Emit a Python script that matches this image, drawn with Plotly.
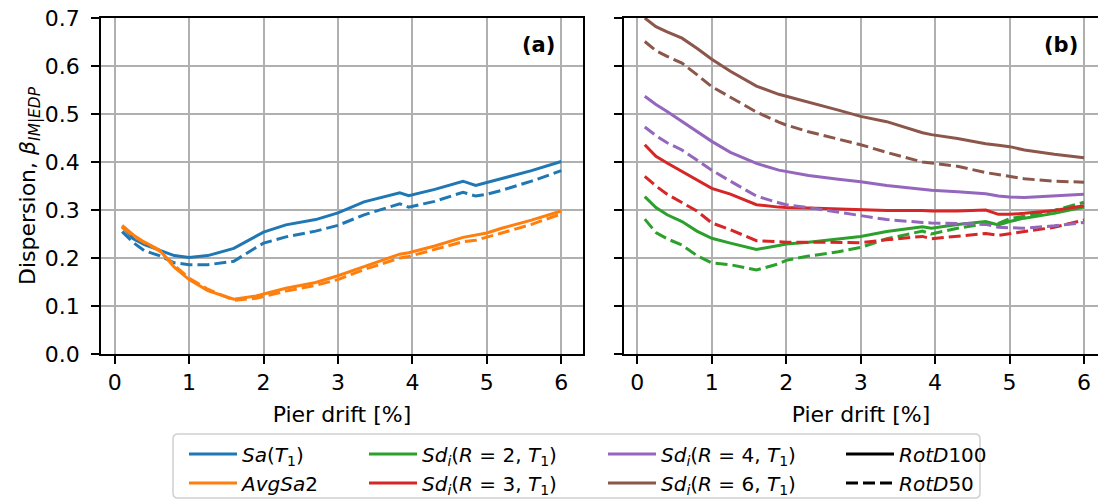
import plotly.graph_objects as go

# ---------------- data ----------------
drift = [0.1, 0.25, 0.4, 0.6, 0.8, 1.0, 1.25, 1.6, 1.9, 2.0, 2.3, 2.7, 3.0, 3.35,
         3.83, 3.95, 4.3, 4.68, 4.85, 5.0, 5.2, 5.6, 6.0]

sa_100 = [0.265, 0.240, 0.228, 0.217, 0.205, 0.201, 0.205, 0.220, 0.245, 0.254, 0.269, 0.280,
          0.294, 0.317, 0.336, 0.330, 0.343, 0.360, 0.351, 0.357, 0.365, 0.382, 0.401]
sa_50 = [0.255, 0.232, 0.215, 0.205, 0.190, 0.186, 0.186, 0.193, 0.222, 0.231, 0.244, 0.256,
         0.268, 0.290, 0.313, 0.306, 0.318, 0.337, 0.329, 0.333, 0.341, 0.360, 0.382]
avg_100 = [0.268, 0.248, 0.233, 0.217, 0.181, 0.155, 0.132, 0.114, 0.121, 0.125, 0.137, 0.149,
           0.163, 0.182, 0.208, 0.211, 0.225, 0.243, 0.247, 0.252, 0.262, 0.279, 0.298]
avg_50 = [0.265, 0.245, 0.232, 0.215, 0.185, 0.158, 0.135, 0.112, 0.116, 0.120, 0.131, 0.143,
          0.155, 0.176, 0.200, 0.203, 0.218, 0.234, 0.237, 0.243, 0.252, 0.270, 0.292]

sd2_100 = [0.328, 0.305, 0.290, 0.276, 0.256, 0.241, 0.231, 0.218, 0.226, 0.229, 0.233, 0.239,
           0.245, 0.255, 0.265, 0.262, 0.270, 0.276, 0.269, 0.276, 0.283, 0.293, 0.306]
sd2_50 = [0.281, 0.253, 0.240, 0.227, 0.205, 0.190, 0.186, 0.175, 0.188, 0.195, 0.204, 0.213,
          0.222, 0.240, 0.256, 0.250, 0.262, 0.272, 0.272, 0.282, 0.287, 0.299, 0.316]
sd3_100 = [0.436, 0.412, 0.398, 0.380, 0.362, 0.345, 0.333, 0.311, 0.306, 0.305, 0.304, 0.302,
           0.301, 0.299, 0.299, 0.298, 0.298, 0.300, 0.291, 0.291, 0.293, 0.299, 0.309]
sd3_50 = [0.370, 0.350, 0.333, 0.316, 0.298, 0.273, 0.259, 0.236, 0.233, 0.233, 0.233, 0.233,
          0.232, 0.238, 0.245, 0.240, 0.246, 0.251, 0.247, 0.250, 0.255, 0.264, 0.279]
sd4_100 = [0.537, 0.520, 0.505, 0.484, 0.463, 0.443, 0.420, 0.397, 0.383, 0.380, 0.372, 0.364,
           0.359, 0.351, 0.343, 0.341, 0.338, 0.334, 0.329, 0.327, 0.326, 0.329, 0.333]
sd4_50 = [0.473, 0.455, 0.440, 0.425, 0.404, 0.383, 0.360, 0.329, 0.315, 0.311, 0.305, 0.295,
          0.288, 0.280, 0.274, 0.273, 0.272, 0.270, 0.264, 0.263, 0.262, 0.267, 0.274]
sd6_100 = [0.700, 0.682, 0.671, 0.658, 0.637, 0.614, 0.589, 0.558, 0.541, 0.537, 0.524, 0.508,
           0.495, 0.484, 0.461, 0.457, 0.449, 0.438, 0.435, 0.432, 0.425, 0.416, 0.409]
sd6_50 = [0.651, 0.632, 0.620, 0.606, 0.582, 0.557, 0.535, 0.504, 0.483, 0.477, 0.463, 0.448,
          0.436, 0.420, 0.400, 0.398, 0.391, 0.378, 0.374, 0.371, 0.365, 0.360, 0.358]

x_ticks = [0, 1, 2, 3, 4, 5, 6]
y_ticks = [0.0, 0.1, 0.2, 0.3, 0.4, 0.5, 0.6, 0.7]

C_BLUE, C_ORANGE, C_GREEN = "#1f77b4", "#ff7f0e", "#2ca02c"
C_RED, C_PURPLE, C_BROWN = "#d62728", "#9467bd", "#8c564b"

FONT = "DejaVu Sans"
FS_AX = 22
FS_LEG = 20
LW = 3
DASH = "12px,5px"

fig = go.Figure()


def add_line(y, color, dash, xa, ya, name, legend, show):
    fig.add_trace(go.Scatter(
        x=drift, y=y, mode="lines",
        line=dict(color=color, width=LW, dash=dash),
        xaxis=xa, yaxis=ya, name=name,
        showlegend=show, legend=legend,
        legendgroup=name + legend,
        hoverinfo="skip"))


# panel (a)
n_sa = "<i>Sa</i>(<i>T</i><sub>1</sub>)"
n_avg = "<i>AvgSa</i>2"
add_line(sa_100, C_BLUE, "solid", "x", "y", n_sa, "legend", True)
add_line(sa_50, C_BLUE, DASH, "x", "y", n_sa, "legend", False)
add_line(avg_100, C_ORANGE, "solid", "x", "y", n_avg, "legend", True)
add_line(avg_50, C_ORANGE, DASH, "x", "y", n_avg, "legend", False)

# panel (b)
sd_name = "<i>Sd</i><sub><i>i</i></sub>(<i>R</i> = {}, <i>T</i><sub>1</sub>)"
add_line(sd2_100, C_GREEN, "solid", "x2", "y2", sd_name.format(2), "legend2", True)
add_line(sd2_50, C_GREEN, DASH, "x2", "y2", sd_name.format(2), "legend2", False)
add_line(sd3_100, C_RED, "solid", "x2", "y2", sd_name.format(3), "legend2", True)
add_line(sd3_50, C_RED, DASH, "x2", "y2", sd_name.format(3), "legend2", False)
add_line(sd4_100, C_PURPLE, "solid", "x2", "y2", sd_name.format(4), "legend3", True)
add_line(sd4_50, C_PURPLE, DASH, "x2", "y2", sd_name.format(4), "legend3", False)
add_line(sd6_100, C_BROWN, "solid", "x2", "y2", sd_name.format(6), "legend3", True)
add_line(sd6_50, C_BROWN, DASH, "x2", "y2", sd_name.format(6), "legend3", False)

# style legend entries
for nm, dsh in [("<i>RotD</i>100", "solid"), ("<i>RotD</i>50", DASH)]:
    fig.add_trace(go.Scatter(x=[None], y=[None], mode="lines",
                             line=dict(color="black", width=LW, dash=dsh),
                             name=nm, legend="legend4", legendgroup=nm,
                             xaxis="x2", yaxis="y2", hoverinfo="skip"))

# ---------------- layout ----------------
W, H = 1098, 501
ML, MR, MT, MB = 101, 0, 18, 147
PW, PH = W - ML - MR, H - MT - MB


def px_x(p):
    return (p - ML) / PW


def px_y(p):
    return (H - MB - p) / PH


axis_common = dict(
    showgrid=True, gridcolor="#b0b0b0", gridwidth=1.6,
    showline=True, linecolor="black", linewidth=1.6,
    ticks="outside", ticklen=8, tickwidth=1.6, tickcolor="black",
    zeroline=False,
    tickfont=dict(family=FONT, size=FS_AX, color="black"),
)

leg_common = dict(
    orientation="v", xanchor="left", yanchor="top", y=px_y(434.5),
    bgcolor="rgba(0,0,0,0)", borderwidth=0,
    font=dict(family=FONT, size=FS_LEG, color="black"),
    itemwidth=48, tracegroupgap=0,
)

title_font = dict(family=FONT, size=FS_AX, color="black")

fig.update_layout(
    width=W, height=H,
    margin=dict(l=ML, r=MR, t=MT, b=MB, autoexpand=False),
    paper_bgcolor="white", plot_bgcolor="white",
    font=dict(family=FONT, size=FS_AX, color="black"),
    xaxis=dict(domain=[0, px_x(583)], range=[-0.184, 6.292], tickvals=x_ticks,
               ticktext=[str(v) for v in x_ticks], mirror=True, anchor="y",
               title=dict(text="Pier drift [%]", standoff=12, font=title_font),
               **axis_common),
    xaxis2=dict(domain=[px_x(624), 1], range=[-0.179, 6.188], tickvals=x_ticks,
                ticktext=[str(v) for v in x_ticks], mirror=True, anchor="y2",
                title=dict(text="Pier drift [%]", standoff=12, font=title_font),
                **axis_common),
    yaxis=dict(domain=[0, 1], range=[0, 0.7], tickvals=y_ticks,
               ticktext=["%.1f" % v for v in y_ticks], mirror=True, anchor="x",
               ticklabelstandoff=7,
               title=dict(text="Dispersion, <i>β</i><sub><i>IM|EDP</i></sub>", standoff=3,
                          font=title_font),
               **axis_common),
    yaxis2=dict(domain=[0, 1], range=[0, 0.7], tickvals=y_ticks, matches="y",
                showticklabels=False, anchor="x2", **axis_common),
    legend=dict(x=px_x(184), **leg_common),
    legend2=dict(x=px_x(364), **leg_common),
    legend3=dict(x=px_x(603), **leg_common),
    legend4=dict(x=px_x(841), **leg_common),
    showlegend=True,
)

# panel labels
fig.add_annotation(x=5.94, y=0.644, xref="x", yref="y", text="<b>(a)</b>",
                   showarrow=False, xanchor="right", yanchor="middle",
                   font=dict(family=FONT, size=21, color="black"))
fig.add_annotation(x=5.946, y=0.644, xref="x2", yref="y2", text="<b>(b)</b>",
                   showarrow=False, xanchor="right", yanchor="middle",
                   font=dict(family=FONT, size=21, color="black"))

# legend frame (rounded rectangle) enclosing the four legend columns
x0, x1 = px_x(173), px_x(980)
y0, y1 = px_y(434), px_y(498)
rx, ry = 5 / PW, 5 / PH
path = (f"M{x0 + rx},{y0} L{x1 - rx},{y0} Q{x1},{y0} {x1},{y0 - ry} "
        f"L{x1},{y1 + ry} Q{x1},{y1} {x1 - rx},{y1} L{x0 + rx},{y1} "
        f"Q{x0},{y1} {x0},{y1 + ry} L{x0},{y0 - ry} Q{x0},{y0} {x0 + rx},{y0} Z")
fig.add_shape(type="path", path=path, xref="paper", yref="paper",
              line=dict(color="#d0d0d0", width=1.5), fillcolor="rgba(0,0,0,0)",
              layer="below")

fig.write_html("out.html")
